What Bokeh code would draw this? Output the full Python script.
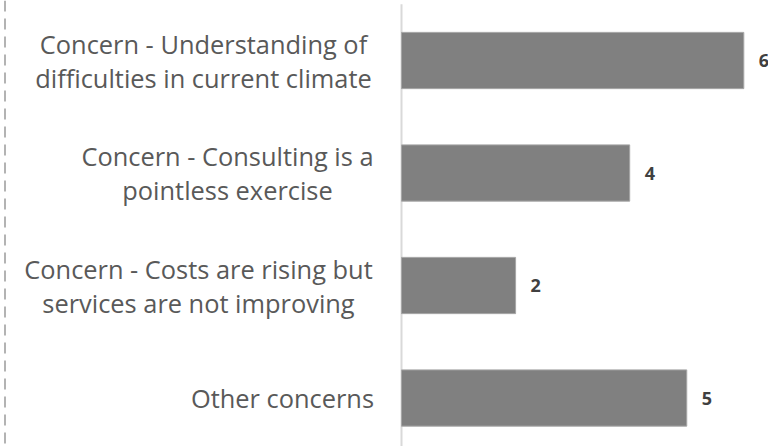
from bokeh.plotting import figure
from bokeh.models import Range1d, ColumnDataSource, Span
from bokeh.core.properties import value
from bokeh.embed import file_html
from bokeh.resources import INLINE

# ---- data ----
categories = [
    "Concern - Understanding of\ndifficulties in current climate",
    "Concern - Consulting is a\npointless exercise",
    "Concern - Costs are rising but\nservices are not improving",
    "Other concerns",
]
values = [6, 4, 2, 5]
value_labels = [str(v) for v in values]

# ---- layout ----
W, H = 768, 446
axis_px = 401.0          # pixel x of the category axis
px_per_unit = 57.05
band_px = 112.5
top_pad_px = 3.75
label_center_offsets = [-198, -174, -203, -119]  # px from axis to label block centre

idx = list(range(len(categories)))
x_start = -axis_px / px_per_unit
x_end = (W - axis_px) / px_per_unit
y_top = -0.5 - top_pad_px / band_px
y_bottom = y_top + H / band_px

p = figure(width=W, height=H, output_backend="svg", toolbar_location=None,
           x_range=Range1d(x_start, x_end), y_range=Range1d(y_bottom, y_top),
           x_axis_location=None, y_axis_location=None,
           min_border=0, min_border_left=0, min_border_right=0,
           min_border_top=0, min_border_bottom=0,
           margin=(0, 0, 0, 0))
p.outline_line_color = None
p.grid.visible = False
p.background_fill_color = "white"
p.border_fill_color = "white"

src = ColumnDataSource(dict(y=idx, v=values, vl=value_labels, cat=categories,
                            zero=[0] * len(idx), off=label_center_offsets))

# dashed frame edge on the far left
p.add_layout(Span(location=x_start + 4.5 / px_per_unit, dimension="height",
                  line_color="#b3b3b3", line_width=2, line_dash="11 7"))

# category axis line
p.segment(x0=0, y0=-0.5, x1=0, y1=len(idx) - 0.5, line_color="#d9d9d9", line_width=2)

p.hbar(y="y", left="zero", right="v", height=0.5, source=src,
       fill_color="#808080", line_color="#a6a6a6", line_width=1)

p.text(x="v", y="y", text="vl", source=src, x_offset=15,
       text_align="left", text_baseline="middle",
       text_font=value("Open Sans"), text_font_style="bold",
       text_font_size="18px", text_color="#404040")

p.text(x="zero", y="y", text="cat", source=src, x_offset="off", y_offset=0,
       text_align="center", text_baseline="middle", text_line_height=1.0,
       text_font=value("Open Sans"), text_font_size="25.4px", text_color="#595959")

open("out.html", "w").write(file_html(p, INLINE))
